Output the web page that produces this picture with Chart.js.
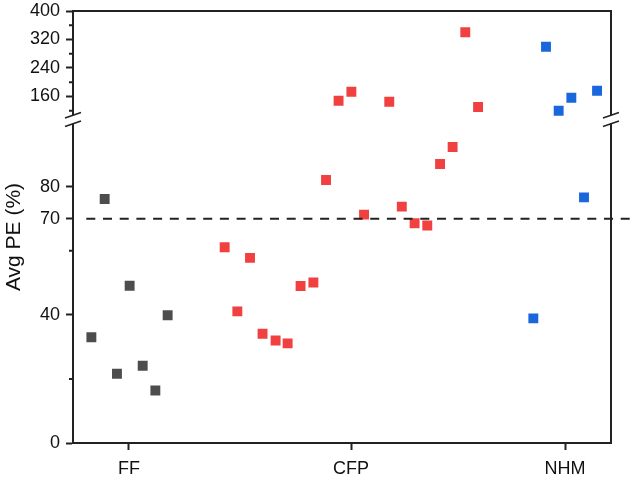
<!DOCTYPE html>
<html>
<head>
<meta charset="utf-8">
<title>Avg PE</title>
<script src="https://cdn.jsdelivr.net/npm/chart.js@4.4.1/dist/chart.umd.min.js"></script>
<style>
	body { margin: 0; background: #fff; }
	canvas { display: block; }
</style>
</head>
<body>
<canvas id="myChart" width="633" height="480"></canvas>
<script>
// Avg PE per group, split y axis (0-101 below the break, ~95-400 above)

const categories = ["FF", "CFP", "NHM"];
const categoryTicks = [4.41, 21.95, 38.83];

const ffX = [1.45, 2.5, 3.47, 4.47, 5.5, 6.5, 7.47];
const ffY = [33.0, 76.2, 21.6, 49.1, 24.1, 16.4, 39.9];

const cfpX = [11.97, 12.97, 13.97, 14.96, 15.99, 16.94, 17.96, 18.97, 19.97, 20.96,
	21.97, 22.97, 24.96, 25.95, 26.96, 27.96, 28.97, 29.96, 30.96, 31.97];
const cfpY = [61.1, 41.1, 57.8, 34.1, 32.0, 31.1, 49.0, 50.1, 82.1, 148.2,
	173.5, 71.3, 145.4, 73.8, 68.6, 67.9, 87.1, 92.4, 340.2, 130.5];

const nhmX = [36.33, 37.33, 38.33, 39.33, 40.33, 41.36];
const nhmY = [38.9, 299.8, 120.1, 156.6, 76.7, 176.3];

const lowTicks = [0, 40, 70, 80];
const lowMinor = [20, 60];
const highTicks = [160, 240, 320, 400];
const highMinor = [120, 200, 280, 360];

const refLine = 70;
const lowMax = 101;
const highMin = 95.4;

function split(xs, ys, high) {
	return xs.map((x, i) => ({ x: x, y: ys[i] }))
		.filter(p => high ? p.y > lowMax : p.y <= lowMax);
}

const AXIS = "#222";
const GRAY = "#4d4d4d", RED = "#f0403f", BLUE = "#1a66dd";

function pts(label, color, data, axis) {
	return {
		type: "scatter",
		label: label,
		data: data,
		yAxisID: axis,
		pointStyle: "rect",
		pointRadius: 7,
		borderWidth: 0,
		backgroundColor: color,
		borderColor: color
	};
}

// frame, minor ticks, axis breaks and the y title
const extras = {
	id: "extras",
	afterDraw(chart) {
		const ctx = chart.ctx;
		const a = chart.chartArea;
		const yl = chart.scales.yLow, yh = chart.scales.yHigh;
		ctx.save();
		ctx.strokeStyle = AXIS;
		ctx.lineWidth = 2;
		ctx.beginPath();
		ctx.moveTo(a.left, a.top);
		ctx.lineTo(a.right, a.top);
		ctx.lineTo(a.right, a.bottom);
		ctx.stroke();

		ctx.beginPath();
		lowMinor.forEach(v => {
			let y = yl.getPixelForValue(v);
			ctx.moveTo(a.left - 4, y);
			ctx.lineTo(a.left, y);
		});
		highMinor.forEach(v => {
			let y = yh.getPixelForValue(v);
			ctx.moveTo(a.left - 4, y);
			ctx.lineTo(a.left, y);
		});
		ctx.stroke();

		const yc = yl.top;
		[a.left, a.right].forEach(X => {
			ctx.fillStyle = "#fff";
			ctx.fillRect(X - 3, yc - 4.2, 6, 8.4);
			ctx.lineWidth = 1.5;
			ctx.beginPath();
			[-4.25, 4.25].forEach(d => {
				ctx.moveTo(X - 8, yc + d + 2.8);
				ctx.lineTo(X + 8, yc + d - 2.8);
			});
			ctx.stroke();
		});

		ctx.fillStyle = "#111";
		ctx.font = '21px "Liberation Sans", Arial, sans-serif';
		ctx.textAlign = "center";
		ctx.textBaseline = "middle";
		ctx.translate(14, 237);
		ctx.rotate(-Math.PI / 2);
		ctx.fillText("Avg PE (%)", 0, 0);
		ctx.restore();
	}
};

Chart.defaults.font.family = '"Liberation Sans", Arial, sans-serif';
Chart.defaults.font.size = 18;
Chart.defaults.color = "#111";

const yCommon = {
	type: "linear",
	position: "left",
	stack: "pe",
	grid: { drawOnChartArea: false, drawTicks: true, tickLength: 7, tickWidth: 2, tickColor: AXIS },
	border: { display: true, color: AXIS, width: 2 },
	// fixed width, and no extra room for the end labels
	afterFit: s => { s.width = 73; s.paddingTop = 0; s.paddingBottom = 0; }
};

const ctx = document.getElementById("myChart").getContext("2d");
const myChart = new Chart(ctx, {
	data: {
		datasets: [
			{
				type: "line",
				data: [{ x: 1.05, y: refLine }, { x: 44, y: refLine }],
				yAxisID: "yLow",
				borderColor: AXIS,
				borderWidth: 2,
				borderDash: [9, 7.7],
				pointRadius: 0,
				clip: false
			},
			pts("FF", GRAY, split(ffX, ffY, false), "yLow"),
			pts("CFP", RED, split(cfpX, cfpY, false), "yLow"),
			pts("CFP", RED, split(cfpX, cfpY, true), "yHigh"),
			pts("NHM", BLUE, split(nhmX, nhmY, false), "yLow"),
			pts("NHM", BLUE, split(nhmX, nhmY, true), "yHigh")
		]
	},
	options: {
		responsive: false,
		animation: false,
		devicePixelRatio: 1,
		events: [],
		layout: { padding: { top: 11, right: 22, left: 0, bottom: 0 } },
		plugins: { legend: { display: false }, tooltip: { enabled: false } },
		scales: {
			x: {
				type: "linear",
				min: 0,
				max: 42.46,
				grid: { drawOnChartArea: false, drawTicks: true, tickLength: 7, tickWidth: 2, tickColor: AXIS },
				border: { display: true, color: AXIS, width: 2 },
				afterBuildTicks: s => { s.ticks = categoryTicks.map(v => ({ value: v })); },
				ticks: { padding: 8, autoSkip: false, maxRotation: 0, callback: (v, i) => categories[i] },
				afterFit: s => { s.height = 37; s.paddingLeft = 0; s.paddingRight = 0; }
			},
			yLow: Object.assign({}, yCommon, {
				min: 0,
				max: lowMax,
				stackWeight: 323.5,
				afterBuildTicks: s => { s.ticks = lowTicks.map(v => ({ value: v })); },
				ticks: { padding: 6, autoSkip: false }
			}),
			yHigh: Object.assign({}, yCommon, {
				min: highMin,
				max: 400,
				stackWeight: 108.5,
				afterBuildTicks: s => { s.ticks = highTicks.map(v => ({ value: v })); },
				ticks: { padding: 6, autoSkip: false }
			})
		}
	},
	plugins: [extras]
});
</script>
</body>
</html>
